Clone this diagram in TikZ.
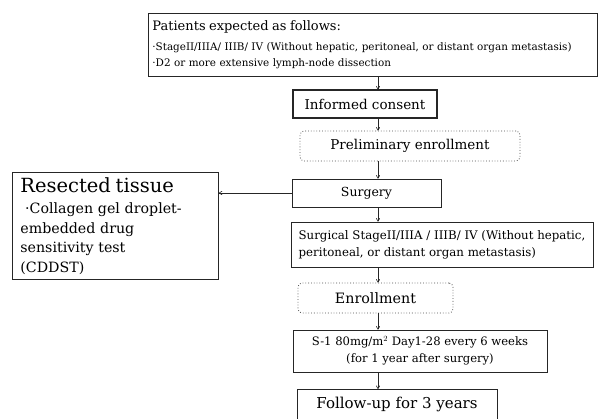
\documentclass[tikz,border=0pt]{standalone}
\usepackage{fontspec}
\setmainfont{DejaVu Serif}
\usetikzlibrary{arrows.meta}
\begin{document}
\begin{tikzpicture}[x=1pt,y=-1pt,
  box/.style={draw=black!85,line width=0.8pt,inner sep=0pt,minimum width=#1},
  dotbox/.style={draw=black!70,line width=0.8pt,dotted,rounded corners=4pt,inner sep=0pt,minimum width=#1},
  arr/.style={-{To[length=3.5pt,width=4pt]},line width=0.6pt,black!85},
  big/.style={font=\fontsize{13.5}{16}\selectfont}]
\useasboundingbox (0,0) rectangle (601,419);
\clip (0,0) rectangle (601,419);
\coordinate (ax) at (378,0);
% top box
\node[box=449, minimum height=63, anchor=north west, align=left, text width=441, inner xsep=4pt,
      font=\fontsize{10.4}{16}\selectfont] (top) at (148,13)
 {{\fontsize{13}{16}\selectfont Patients expected as follows:}\\[4pt]
  \textperiodcentered StageII/IIIA/ IIIB/ IV (Without hepatic, peritoneal, or distant organ metastasis)\\
  \textperiodcentered D2 or more extensive lymph-node dissection};
\node[box=144, minimum height=28, big, line width=1.1pt] (consent) at (365,104) {Informed consent};
\node[dotbox=220, minimum height=30, big] (prelim) at (410,146) {Preliminary enrollment};
\node[box=149, minimum height=28, font=\fontsize{12.5}{15}\selectfont] (surgery) at (366.5,193) {Surgery};
\node[box=302, minimum height=45, align=left, font=\fontsize{11.8}{17}\selectfont] (stage) at (442,244.5)
 {Surgical StageII/IIIA / IIIB/ IV (Without hepatic,\\ peritoneal, or distant organ metastasis)};
\node[dotbox=155, minimum height=30, font=\fontsize{14.3}{17}\selectfont] (enroll) at (375.5,298) {Enrollment};
\node[box=254, minimum height=42, align=center, font=\fontsize{11.6}{17}\selectfont] (s1) at (420,351)
 {S-1 80mg/m$^2$ Day1-28 every 6 weeks\\ (for 1 year after surgery)};
\node[box=200, minimum height=40, anchor=north, font=\fontsize{15}{17}\selectfont, text depth=14pt] (follow) at (397,389) {Follow-up for 3 years};
\node[box=206, minimum height=107, anchor=north west, align=left, text width=190, inner xsep=7pt,
      font=\fontsize{14.2}{19.5}\selectfont] (res) at (12,172)
 {{\fontsize{19.5}{22}\selectfont Resected tissue}\\[2pt]
  \ \textperiodcentered Collagen gel droplet-\\ embedded drug\\ sensitivity test\\ (CDDST)};
% arrows
\draw[arr] (ax |- top.south) -- (ax |- consent.north);
\draw[arr] (ax |- consent.south) -- (ax |- prelim.north);
\draw[arr] (ax |- prelim.south) -- (ax |- surgery.north);
\draw[arr] (ax |- surgery.south) -- (ax |- stage.north);
\draw[arr] (ax |- stage.south) -- (ax |- enroll.north);
\draw[arr] (ax |- enroll.south) -- (ax |- s1.north);
\draw[arr] (ax |- s1.south) -- (ax |- follow.north);
\draw[arr] (surgery.west) -- (surgery.west -| res.east);
\end{tikzpicture}
\end{document}
